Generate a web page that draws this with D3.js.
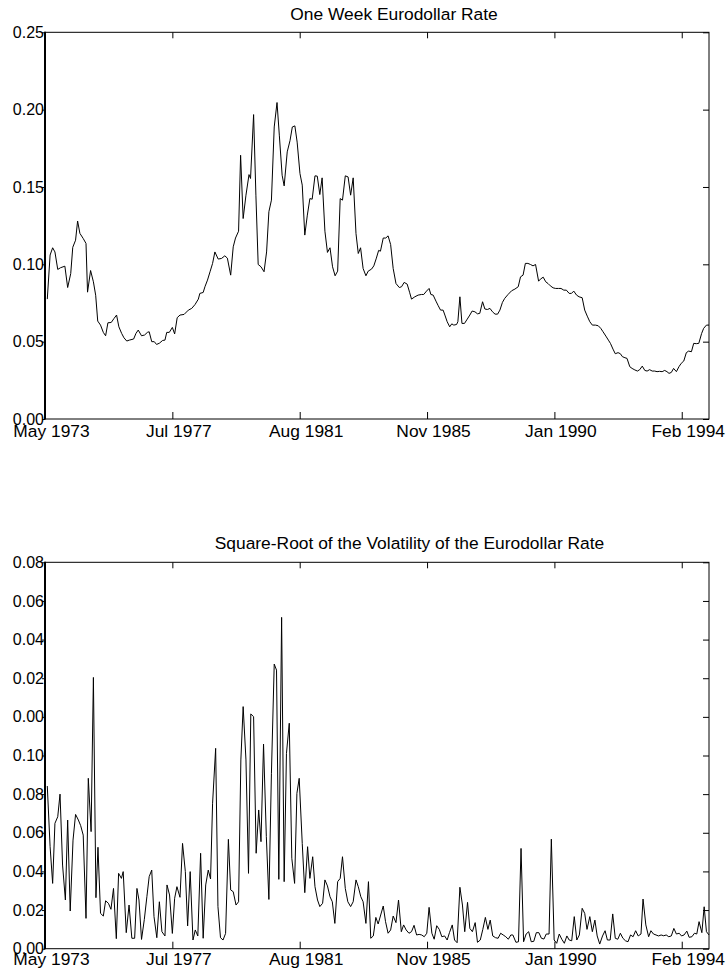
<!DOCTYPE html>
<html>
<head>
<meta charset="utf-8">
<script src="https://cdn.jsdelivr.net/npm/d3@7"></script>
<style>
  html, body { margin: 0; padding: 0; background: #fff; }
  svg { display: block; }
  text { font-family: "Liberation Sans", Arial, sans-serif; fill: #000; }
</style>
</head>
<body>
<svg id="chart" width="728" height="977"></svg>
<script>
// Month index since May 1973 (monthly observations)
const monthTicks = [0, 50, 100, 150, 200, 250];
const monthLabels = ["May 1973", "Jul 1977", "Aug 1981", "Nov 1985", "Jan 1990", "Feb 1994"];
const lastMonth = 260.7;

const rateTicks = [0, 0.05, 0.10, 0.15, 0.20, 0.25];
const rateTickLabels = ["0.00", "0.05", "0.10", "0.15", "0.20", "0.25"];

const volTicks = [0, 0.02, 0.04, 0.06, 0.08, 0.10, 0.12, 0.14, 0.16, 0.18, 0.20];
const volTickLabels = ["0.00", "0.02", "0.04", "0.06", "0.08", "0.10", "0.00", "0.02", "0.04", "0.06", "0.08"];

// One week Eurodollar rate: [month, rate]
const rate = [
  [0.9,0.0775],[2.0,0.106],[3.0,0.1107],[3.9,0.108],[5.0,0.0967],[6.1,0.0978],[7.8,0.0988],[8.9,0.085],
  [10.1,0.094],[10.9,0.111],[12.0,0.1156],[12.8,0.128],[13.7,0.120],[15.0,0.1167],[16.1,0.1135],[16.7,0.082],
  [17.9,0.096],[19.0,0.0887],[19.9,0.080],[20.7,0.0633],[21.8,0.0607],[22.9,0.056],[23.8,0.0538],[24.7,0.0622],
  [26.0,0.0624],[27.1,0.065],[28.1,0.0672],[29.0,0.0596],[30.1,0.0553],[31.0,0.0525],[32.1,0.0504],[33.1,0.051],
  [34.8,0.0517],[35.7,0.0553],[36.6,0.0575],[37.9,0.0538],[39.1,0.0543],[40.2,0.056],[40.9,0.0564],[41.9,0.050],
  [42.9,0.050],[43.8,0.0482],[44.9,0.049],[46.2,0.0508],[47.1,0.051],[47.8,0.056],[48.8,0.056],[50.0,0.0592],
  [50.9,0.055],[51.9,0.0655],[53.0,0.0672],[54.6,0.0676],[56.3,0.0704],[57.6,0.0715],[58.9,0.074],[60.2,0.0775],
  [60.8,0.0812],[62.1,0.0818],[62.8,0.0855],[63.8,0.0898],[64.8,0.0952],[65.8,0.1006],[66.7,0.108],[68.0,0.1034],
  [69.3,0.1038],[70.6,0.1055],[71.6,0.104],[72.9,0.093],[73.9,0.1113],[74.8,0.117],[76.0,0.1214],[76.8,0.1705],
  [77.8,0.1296],[78.9,0.1447],[80.1,0.158],[80.7,0.1555],[81.9,0.1968],[82.8,0.1447],[83.7,0.0999],[84.8,0.0984],
  [86.0,0.0952],[87.0,0.108],[87.9,0.134],[88.9,0.1415],[90.0,0.1888],[91.1,0.2046],[92.0,0.1835],[93.1,0.1576],
  [93.9,0.1507],[95.1,0.1727],[96.2,0.180],[97.1,0.1888],[98.1,0.1895],[99.0,0.179],[100.1,0.1587],[101.0,0.1512],
  [102.0,0.1189],[103.0,0.1318],[104.0,0.1425],[104.9,0.1421],[106.0,0.1572],[106.9,0.157],[107.9,0.1451],[108.8,0.1559],
  [109.9,0.1214],[110.9,0.1077],[111.9,0.1107],[112.9,0.0984],[113.9,0.0926],[114.9,0.0956],[115.9,0.1425],[116.8,0.1415],
  [117.9,0.1572],[119.0,0.1565],[120.0,0.1447],[121.0,0.1559],[122.1,0.1199],[123.0,0.107],[123.9,0.1107],[124.9,0.0973],
  [126.0,0.0926],[126.9,0.0956],[128.2,0.0969],[129.1,0.099],[130.1,0.104],[131.0,0.109],[131.7,0.1085],[132.8,0.117],
  [133.8,0.117],[134.7,0.1184],[135.7,0.1128],[136.7,0.0973],[137.8,0.0876],[139.1,0.085],[140.0,0.0855],[141.0,0.0883],
  [142.2,0.0872],[143.2,0.0816],[143.9,0.0775],[145.2,0.079],[146.5,0.0801],[147.8,0.0805],[148.7,0.0805],[149.8,0.0827],
  [150.8,0.0844],[151.5,0.0805],[152.4,0.0801],[153.5,0.0762],[154.4,0.0732],[155.3,0.0704],[156.3,0.0704],[157.0,0.0672],
  [157.9,0.0629],[158.9,0.0596],[159.7,0.0615],[160.5,0.0607],[161.6,0.0611],[162.1,0.0629],[162.9,0.079],[163.7,0.0618],
  [164.7,0.0618],[165.8,0.0646],[166.8,0.0672],[167.7,0.0698],[168.8,0.0693],[169.8,0.068],[170.7,0.0683],[171.8,0.0758],
  [172.7,0.0711],[173.7,0.0708],[174.7,0.0715],[175.7,0.0693],[176.7,0.0678],[177.7,0.0678],[178.6,0.0704],[179.6,0.0754],
  [180.5,0.078],[181.8,0.0805],[183.2,0.0829],[184.5,0.084],[185.8,0.0855],[186.7,0.0919],[187.7,0.093],[188.6,0.1006],
  [189.6,0.1006],[190.6,0.0999],[191.6,0.099],[192.6,0.0999],[193.8,0.0891],[194.5,0.0904],[195.6,0.0917],[196.6,0.0887],
  [197.5,0.0876],[198.4,0.0861],[199.5,0.0848],[200.5,0.0844],[201.6,0.0844],[202.6,0.0844],[203.7,0.0833],[204.7,0.0833],
  [205.8,0.0812],[206.7,0.0812],[207.6,0.0827],[208.7,0.0801],[209.7,0.079],[210.9,0.0784],[211.9,0.0704],[212.9,0.0665],
  [213.9,0.0629],[214.9,0.0607],[216.1,0.0607],[217.2,0.0603],[218.2,0.0586],[219.1,0.0564],[220.2,0.0536],[221.2,0.051],
  [222.0,0.0489],[223.0,0.0452],[223.9,0.0422],[225.0,0.0429],[225.9,0.0422],[226.7,0.0403],[227.7,0.0396],[228.5,0.0392],
  [229.6,0.0338],[230.5,0.0327],[231.6,0.0317],[232.6,0.031],[233.5,0.0319],[234.5,0.0342],[235.5,0.0314],[236.4,0.031],
  [237.4,0.0319],[238.4,0.031],[239.4,0.031],[240.3,0.0306],[241.3,0.0308],[242.3,0.0306],[243.3,0.0314],[244.2,0.0306],
  [245.0,0.0295],[245.9,0.0301],[246.8,0.0327],[247.9,0.0306],[248.9,0.0338],[249.8,0.036],[250.8,0.0375],[251.8,0.0429],
  [252.7,0.0439],[253.8,0.0435],[254.7,0.0489],[255.7,0.0487],[256.7,0.0489],[257.8,0.0553],[258.6,0.0586],[259.7,0.0607],
  [260.7,0.0607]
];

// Square-root of the volatility: [month, value]
const vol = [
  [0.9,0.0842],[2.0,0.0528],[3.0,0.0338],[3.9,0.0649],[5.0,0.0683],[5.9,0.080],[6.9,0.0433],[8.0,0.0252],
  [8.9,0.0666],[9.9,0.0195],[11.0,0.0562],[12.0,0.0695],[13.1,0.0666],[14.0,0.0637],[15.0,0.0588],[16.1,0.0157],
  [17.0,0.0882],[18.1,0.0606],[19.0,0.1404],[20.0,0.0264],[20.8,0.0525],[21.8,0.0183],[22.9,0.0169],[23.8,0.0248],
  [24.9,0.0235],[25.9,0.0204],[26.9,0.0312],[28.0,0.0052],[28.9,0.039],[30.0,0.0364],[30.7,0.0399],[31.9,0.0083],
  [33.0,0.0226],[34.1,0.0054],[35.2,0.0054],[36.1,0.0312],[36.9,0.0252],[37.9,0.0048],[39.0,0.0152],[40.0,0.0269],
  [40.9,0.0373],[41.9,0.0407],[42.8,0.0166],[43.9,0.0057],[44.9,0.0243],[45.9,0.0088],[47.1,0.0066],[47.9,0.033],
  [48.9,0.0278],[50.0,0.0079],[50.9,0.0261],[51.8,0.0321],[53.0,0.0266],[54.0,0.0545],[55.1,0.0399],[56.0,0.0118],
  [57.0,0.0399],[58.1,0.0045],[59.0,0.0097],[60.0,0.0066],[61.1,0.0494],[62.1,0.0054],[63.1,0.033],[64.1,0.0407],
  [65.0,0.0361],[65.8,0.0753],[67.0,0.1037],[67.9,0.0218],[68.9,0.0057],[69.9,0.0045],[70.9,0.0079],[72.0,0.0566],
  [72.9,0.0304],[73.9,0.0295],[75.0,0.0226],[76.0,0.0243],[76.9,0.0977],[77.8,0.1253],[78.9,0.0977],[79.9,0.039],
  [80.8,0.1215],[81.9,0.1201],[82.9,0.0494],[83.9,0.0718],[84.8,0.0554],[85.8,0.1059],[86.9,0.058],[87.9,0.0255],
  [88.9,0.0908],[90.0,0.1473],[90.9,0.1442],[91.8,0.0359],[92.9,0.1715],[93.9,0.0347],[94.8,0.1011],[95.9,0.1167],
  [96.9,0.0468],[98.0,0.0338],[98.9,0.0804],[99.8,0.0882],[101.0,0.0545],[102.0,0.029],[103.1,0.0528],[104.0,0.0364],
  [105.1,0.0476],[106.0,0.0321],[107.0,0.0252],[107.9,0.0218],[109.0,0.0235],[109.9,0.0356],[110.9,0.0325],[111.9,0.0269],
  [112.8,0.0243],[113.8,0.0131],[114.9,0.0347],[115.9,0.0364],[116.8,0.0476],[117.9,0.0312],[118.9,0.0243],[120.0,0.0218],
  [121.0,0.0243],[122.1,0.0356],[123.0,0.0321],[124.0,0.0269],[124.9,0.0243],[126.0,0.0131],[127.0,0.0347],[127.9,0.0054],
  [128.9,0.0066],[129.9,0.0162],[130.8,0.0128],[132.8,0.0221],[133.7,0.014],[134.7,0.008],[135.7,0.0097],[136.7,0.0169],
  [137.8,0.0135],[138.8,0.0252],[139.9,0.0088],[140.8,0.0123],[141.8,0.0097],[142.9,0.008],[143.9,0.0088],[144.9,0.0121],
  [145.9,0.0071],[146.9,0.0074],[147.9,0.0071],[148.9,0.0062],[149.9,0.008],[150.8,0.0214],[151.9,0.008],[152.8,0.0049],
  [153.8,0.0119],[154.8,0.010],[155.8,0.0062],[156.9,0.0066],[157.9,0.0045],[158.8,0.0083],[159.9,0.0123],[160.8,0.0045],
  [161.8,0.0031],[162.9,0.0318],[163.9,0.0226],[164.8,0.0088],[165.9,0.024],[166.8,0.0105],[167.8,0.0088],[168.9,0.0135],
  [169.8,0.0033],[170.9,0.0045],[171.9,0.010],[172.9,0.0162],[173.9,0.010],[174.8,0.0148],[175.8,0.0066],[176.9,0.0057],
  [177.9,0.0054],[178.9,0.008],[179.9,0.0071],[180.9,0.0062],[181.9,0.0049],[182.9,0.0071],[183.7,0.0071],[184.9,0.0033],
  [185.9,0.0036],[186.9,0.0519],[187.9,0.0036],[188.9,0.0076],[189.9,0.0088],[190.9,0.0036],[191.9,0.0038],[192.9,0.0083],
  [193.9,0.0083],[194.9,0.0054],[195.9,0.005],[196.8,0.0076],[197.9,0.0076],[198.8,0.0567],[199.9,0.0045],[200.9,0.0028],
  [201.9,0.0076],[202.9,0.0049],[203.9,0.0028],[204.9,0.0066],[205.8,0.0045],[206.8,0.0041],[207.8,0.0166],[208.8,0.0045],
  [209.8,0.0071],[210.9,0.0209],[211.9,0.0183],[212.8,0.010],[213.9,0.0166],[214.9,0.0088],[215.9,0.0148],[216.8,0.0066],
  [217.8,0.0024],[218.9,0.0066],[219.9,0.0093],[220.8,0.0045],[221.9,0.0045],[222.9,0.018],[223.9,0.0054],[224.9,0.0049],
  [225.9,0.008],[226.9,0.0054],[227.9,0.0041],[228.9,0.0036],[229.9,0.0071],[230.9,0.0062],[231.9,0.0093],[232.9,0.0066],
  [234.0,0.0076],[234.8,0.0257],[235.9,0.0123],[237.0,0.0062],[237.9,0.0093],[238.9,0.0076],[239.9,0.0071],[240.9,0.0066],
  [241.9,0.0071],[242.9,0.0067],[243.9,0.0071],[244.9,0.0062],[245.9,0.0066],[246.9,0.0105],[247.9,0.0076],[249.0,0.008],
  [249.9,0.0066],[250.9,0.0071],[252.0,0.0091],[252.9,0.0059],[254.0,0.0062],[255.0,0.008],[255.9,0.0076],[256.8,0.014],
  [257.9,0.0083],[258.8,0.0217],[259.7,0.0088],[260.7,0.0071]
];

const svg = d3.select("#chart");
svg.append("rect").attr("width", 728).attr("height", 977).attr("fill", "#fff");

const plotLeft = 45, plotRight = 709;
const x = d3.scaleLinear().domain([0, lastMonth]).range([plotLeft, plotRight]);

const panels = [
  { title: "One Week Eurodollar Rate", titleX: 394, titleY: 20,
    top: 32.3, bottom: 419, yMax: 0.25, ticks: rateTicks, tickLabels: rateTickLabels,
    series: rate, xLabelPad: 5.8 },
  { title: "Square-Root of the Volatility of the Eurodollar Rate", titleX: 409.5, titleY: 549,
    top: 562.3, bottom: 948.7, yMax: 0.20, ticks: volTicks, tickLabels: volTickLabels,
    series: vol, xLabelPad: 4.2 }
];

panels.forEach(p => {
  const y = d3.scaleLinear().domain([0, p.yMax]).range([p.bottom, p.top]);
  const g = svg.append("g");

  // title
  g.append("text")
    .attr("x", p.titleX).attr("y", p.titleY)
    .attr("text-anchor", "middle")
    .style("font-size", "17.4px")
    .text(p.title);

  // series line
  const line = d3.line().x(d => x(d[0])).y(d => y(d[1]));
  g.append("path")
    .datum(p.series)
    .attr("d", line)
    .attr("fill", "none")
    .attr("stroke", "#000")
    .attr("stroke-width", 1)
    .attr("stroke-linejoin", "miter");

  // inward tick marks along bottom and top edges
  const tickOnly = sel => { sel.select(".domain").remove(); sel.selectAll("text").remove(); sel.selectAll("line").attr("stroke", "#000"); };
  g.append("g").attr("transform", `translate(0,${p.bottom})`)
    .call(d3.axisTop(x).tickValues(monthTicks).tickSize(7).tickFormat(""))
    .call(tickOnly);
  g.append("g").attr("transform", `translate(0,${p.top})`)
    .call(d3.axisBottom(x).tickValues(monthTicks).tickSize(6).tickFormat(""))
    .call(tickOnly);
  // inward ticks along right edge
  g.append("g").attr("transform", `translate(${plotRight},0)`)
    .call(d3.axisLeft(y).tickValues(p.ticks).tickSize(6).tickFormat(""))
    .call(tickOnly);

  // left axis with labels
  const left = g.append("g").attr("transform", `translate(${plotLeft},0)`)
    .call(d3.axisLeft(y).tickValues(p.ticks).tickSize(3).tickPadding(-2)
      .tickFormat((d, i) => p.tickLabels[i]));
  left.select(".domain").remove();
  left.selectAll("line").attr("stroke", "#000");
  left.selectAll("text").style("font-size", "16px").style("font-family", '"Liberation Sans", Arial, sans-serif').attr("fill", "#000");

  // bottom date labels
  const bottom = g.append("g").attr("transform", `translate(0,${p.bottom})`)
    .call(d3.axisBottom(x).tickValues(monthTicks).tickSize(0).tickPadding(p.xLabelPad)
      .tickFormat((d, i) => monthLabels[i]));
  bottom.select(".domain").remove();
  bottom.selectAll("text").attr("dx", 6).style("font-size", "17.4px")
    .style("font-family", '"Liberation Sans", Arial, sans-serif').attr("fill", "#000");

  // frame
  g.append("rect")
    .attr("x", plotLeft).attr("y", p.top)
    .attr("width", plotRight - plotLeft).attr("height", p.bottom - p.top)
    .attr("fill", "none").attr("stroke", "#000").attr("stroke-width", 1);
  g.append("line")
    .attr("x1", plotLeft).attr("x2", plotLeft)
    .attr("y1", p.top - 0.5).attr("y2", p.bottom + 0.5)
    .attr("stroke", "#000").attr("stroke-width", 2);
});
</script>
</body>
</html>
